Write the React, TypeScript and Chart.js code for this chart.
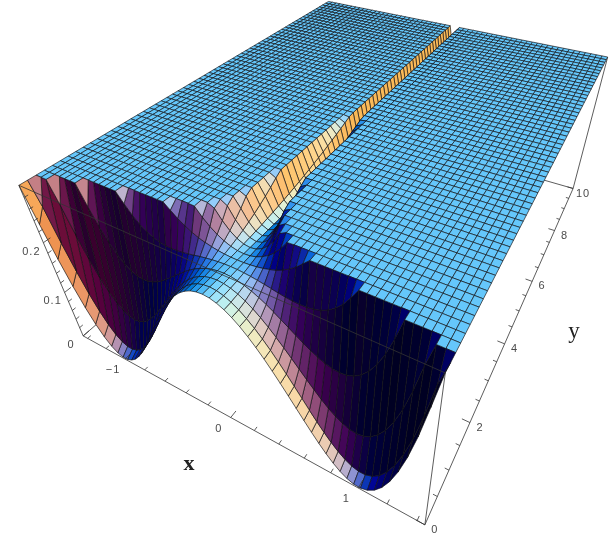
import React, { useEffect, useRef } from "react";
import { Chart, registerables } from "chart.js";

Chart.register(...registerables);

// Surface heights. Columns run outward from x = 0 (the surface is mirrored about x = 0);
// a row lists only the columns below the clip height, every further column sits on the plateau.
const zTop = 0.3;
const xRange = 1.45;
const yRange = 10;
const xColumns = [0,.0483,.0967,.145,.1933,.2417,.29,.3383,.3867,.435,.4833,.5317,.58,.6283,.6767,.725,.7733,.8217,.87,.9183,.9667,1.015,1.0633,1.1117,1.16,1.2083,1.2567,1.305,1.3533,1.4017,1.45];
const yRowCount = 60;
const zRows: number[][] = [
[.25,.2488,.2454,.2397,.2318,.2218,.2099,.1963,.1812,.1648,.1474,.1293,.1109,.0926,.0746,.0576,.0419,.0281,.0167,.0083,.0034,.0028,.0071,.017,.0332,.0566,.0878,.1278,.1774,.2376],
[.25,.2489,.2455,.2399,.2322,.2224,.2109,.1976,.1829,.1669,.15,.1325,.1147,.0969,.0797,.0634,.0485,.0356,.0251,.0176,.0138,.0143,.0197,.0307,.0482,.0728,.1054,.1467,.1978,.2594],
[.25,.249,.2461,.2413,.2347,.2263,.2165,.2052,.1928,.1795,.1656,.1513,.1371,.1233,.1102,.0985,.0884,.0806,.0755,.0738,.0761,.0829,.095,.1131,.1379,.1701,.2107,.2603],
[.25,.2493,.2472,.2439,.2392,.2335,.2268,.2192,.2111,.2027,.1942,.1859,.1782,.1715,.1662,.1627,.1615,.1631,.168,.1769,.1903,.2089,.2332,.2642],
[.25,.2497,.2489,.2476,.2459,.2439,.2417,.2396,.2377,.2363,.2357,.2361,.238,.2417,.2476,.2561,.2678,.2831],
[.25,.2503,.2511,.2525,.2546,.2575,.2613,.2663,.2726,.2805,.2902],
[.25,.2509,.2538,.2586,.2654,.2744,.2856,.2994],
[.25,.2517,.257,.2658,.2783,.2945],
[.25,.2527,.2607,.2742,.2932],
[.25,.2537,.2651,.2838],
[.25,.2549,.2698,.2946],
[.25,.2563,.2751],
[.25,.2577,.2809],
[.25,.2593,.2872],
[.25,.261,.2941],
[.25,.2629],[.25,.2648],[.25,.2669],[.25,.2692],[.25,.2715],[.25,.274],[.25,.2766],[.25,.2794],[.25,.2823],[.25,.2853],
[.25,.2884],[.25,.2917],[.25,.2951],[.25,.2986],
[.25],[.25],[.25],[.25],[.25],[.25],[.25],[.25],[.25],[.25],[.25],[.25],[.25],[.25],[.25],[.25],
[.25],[.25],[.25],[.25],[.25],[.25],[.25],[.25],[.25],[.25],[.25],[.25],[.25],[.25],[.25],[.25],
];

const xMajorTicks = [-1, 0, 1];
const xMinorTicks = [-1.4,-1.2,-.8,-.6,-.4,-.2,.2,.4,.6,.8,1.2,1.4];
const yMajorTicks = [0, 2, 4, 6, 8, 10];
const yMinorTicks = [.5,1,1.5,2.5,3,3.5,4.5,5,5.5,6.5,7,7.5,8.5,9,9.5];
const zMajorTicks = [0, 0.1, 0.2];
const zMinorTicks = [.02,.04,.06,.08,.12,.14,.16,.18,.22,.24,.26,.28];

// Camera: where known points of the bounding box land on the page, [u, v, w, px, py].
const boxCorners = [
  [0,0,0,84,335],[1,0,0,422,526],[0,0,1,17,189],[1,0,1,446,366],
  [1,1,1,608,58],[0,1,1,328,1],[1,1,0,573,188],
  [.5,0,0,231,416],[.155,0,0,125,357],[.845,0,0,363,493],
  [1,.4,0,503,345],[1,.6,0,531,281],[1,.8,0,555,230],[.5,1,1,456,27],
];
const boxHeight = 0.4;
// World axes in viewer coordinates, for the three coloured lights of the renderer.
const axisU = [.805,-.333,.491], axisV = [.588,.503,-.623], axisW = [-.04,.79,.6];

function solveCamera(): number[] {
  const n = 11;
  const A = Array.from({ length: n }, () => new Array(n + 1).fill(0));
  const add = (r: number[], t: number) => {
    for (let a = 0; a < n; a++) {
      for (let b = 0; b < n; b++) A[a][b] += r[a] * r[b];
      A[a][n] += r[a] * t;
    }
  };
  for (const [u, v, w, X, Y] of boxCorners) {
    add([u,v,w,1,0,0,0,0,-X*u,-X*v,-X*w], X);
    add([0,0,0,0,u,v,w,1,-Y*u,-Y*v,-Y*w], Y);
  }
  for (let c = 0; c < n; c++) {
    let p = c;
    for (let r = c + 1; r < n; r++) if (Math.abs(A[r][c]) > Math.abs(A[p][c])) p = r;
    [A[c], A[p]] = [A[p], A[c]];
    for (let r = 0; r < n; r++) {
      if (r === c) continue;
      const f = A[r][c] / A[c][c];
      for (let k = c; k <= n; k++) A[r][k] -= f * A[c][k];
    }
  }
  return A.map((row, i) => row[n] / row[i]);
}
const cam = solveCamera();
const project = (u: number, v: number, w: number) => {
  const d = cam[8]*u + cam[9]*v + cam[10]*w + 1;
  return {
    x: (cam[0]*u + cam[1]*v + cam[2]*w + cam[3]) / d,
    y: (cam[4]*u + cam[5]*v + cam[6]*w + cam[7]) / d,
    d,
  };
};
const xToU = (x: number) => (x + xRange) / (2 * xRange);
const yToV = (y: number) => y / yRange;
const zToW = (z: number) => z / zTop;

function heightAt(col: number, row: number) {
  const list = zRows[row];
  const k = Math.abs(col);
  return k < list.length ? list[k] : zTop;
}

function shade(nu: number, nv: number, nw: number) {
  const len = Math.hypot(nu, nv, nw) || 1;
  const nx = (nu*axisU[0] + nv*axisV[0] + nw*axisW[0]) / len;
  const ny = (nu*axisU[1] + nv*axisV[1] + nw*axisW[1]) / len;
  const nz = (nu*axisU[2] + nv*axisV[2] + nw*axisW[2]) / len;
  const ch = (v: number) => Math.round(255 * Math.min(1, Math.max(0, v)));
  const r = ch((nx + nz) / Math.SQRT2);
  const g = ch((nx + ny + nz) / Math.sqrt(3));
  const b = ch((ny + nz) / Math.SQRT2);
  return `rgb(${r},${g},${b})`;
}

function buildSurface() {
  const nCols = xColumns.length - 1;
  const cells: { pts: {x:number;y:number}[]; color: string; depth: number }[] = [];
  const vertex = (col: number, row: number) => {
    const x = Math.sign(col) * xColumns[Math.abs(col)];
    const y = (row / yRowCount) * yRange;
    const u = xToU(x), v = yToV(y), w = zToW(heightAt(col, row));
    return { u, v, w, h: w * boxHeight, p: project(u, v, w) };
  };
  for (let row = 0; row < yRowCount; row++) {
    for (let col = -nCols; col < nCols; col++) {
      const a = vertex(col, row), b = vertex(col + 1, row), c = vertex(col + 1, row + 1), e = vertex(col, row + 1);
      const d1 = [c.u - a.u, c.v - a.v, c.h - a.h];
      const d2 = [e.u - b.u, e.v - b.v, e.h - b.h];
      let nu = d1[1]*d2[2] - d1[2]*d2[1];
      let nv = d1[2]*d2[0] - d1[0]*d2[2];
      let nw = d1[0]*d2[1] - d1[1]*d2[0];
      if (nw < 0) { nu = -nu; nv = -nv; nw = -nw; }
      cells.push({
        pts: [a, b, c, e].map((q) => ({ x: q.p.x, y: q.p.y })),
        color: shade(nu, nv, nw),
        depth: (a.p.d + b.p.d + c.p.d + e.p.d) / 4,
      });
    }
  }
  const sign = project(0.5, 1, 0).d > project(0.5, 0, 0).d ? -1 : 1;
  cells.sort((p, q) => sign * (p.depth - q.depth));
  return cells;
}

function polyline(points: { u: number; v: number; w: number }[][]) {
  const out: { x: number; y: number }[] = [];
  points.forEach((seg, i) => {
    if (i) out.push({ x: NaN, y: NaN });
    seg.forEach((q) => {
      const p = project(q.u, q.v, q.w);
      out.push({ x: p.x, y: p.y });
    });
  });
  return out;
}
const P = (u: number, v: number, w: number) => ({ u, v, w });

const tickSegs: { u: number; v: number; w: number }[][] = [];
xMajorTicks.forEach((t) => tickSegs.push([P(xToU(t),0,0), P(xToU(t),.015,0)]));
xMinorTicks.forEach((t) => tickSegs.push([P(xToU(t),0,0), P(xToU(t),.008,0)]));
yMajorTicks.forEach((t) => tickSegs.push([P(1,yToV(t),0), P(.98,yToV(t),0)]));
yMinorTicks.forEach((t) => tickSegs.push([P(1,yToV(t),0), P(.99,yToV(t),0)]));
zMajorTicks.forEach((t) => tickSegs.push([P(0,0,zToW(t)), P(0,.015,zToW(t))]));
zMinorTicks.forEach((t) => tickSegs.push([P(0,0,zToW(t)), P(0,.008,zToW(t))]));

const frontEdges = [
  [P(0,0,0), P(1,0,0)],
  [P(1,0,0), P(1,1,0)],
  [P(0,0,0), P(0,0,1)],
  [P(1,0,0), P(1,0,1)],
  [P(1,1,0), P(1,1,1)],
  [P(0,0,1), P(1,0,1)],
];
const backEdges = [[P(0,0,0), P(0,1,0)], [P(0,1,0), P(1,1,0)]];

const xLabelOffset = [-12, 11], yLabelOffset = [10, 5], zLabelOffset = [-12, 9];

const surfacePlugin = {
  id: "surfacePlugin",
  afterDatasetDraw(chart: any, args: any) {
    const ds: any = chart.data.datasets[args.index];
    if (!ds.cellColors) return;
    const ctx = chart.ctx, pts = args.meta.data;
    ctx.save();
    ctx.lineWidth = 0.75;
    ctx.lineJoin = "round";
    ctx.strokeStyle = "rgba(16,16,20,0.88)";
    for (let c = 0; c < ds.cellColors.length; c++) {
      const k = c * 4;
      ctx.beginPath();
      ctx.moveTo(pts[k].x, pts[k].y);
      ctx.lineTo(pts[k+1].x, pts[k+1].y);
      ctx.lineTo(pts[k+2].x, pts[k+2].y);
      ctx.lineTo(pts[k+3].x, pts[k+3].y);
      ctx.closePath();
      ctx.fillStyle = ds.cellColors[c];
      ctx.fill();
      ctx.stroke();
    }
    ctx.restore();
  },
  afterDraw(chart: any) {
    const ctx = chart.ctx, sx = chart.scales.x, sy = chart.scales.y;
    const put = (text: string, q: { u: number; v: number; w: number }, off: number[]) => {
      const p = project(q.u, q.v, q.w);
      ctx.fillText(text, sx.getPixelForValue(p.x) + off[0], sy.getPixelForValue(p.y) + off[1]);
    };
    ctx.save();
    ctx.textAlign = "center";
    ctx.textBaseline = "middle";
    ctx.fillStyle = "#4a4a4a";
    ctx.font = '11px "Liberation Sans"';
    (ctx as any).letterSpacing = "1px";
    xMajorTicks.forEach((t) => put(t < 0 ? "\u2212" + -t : String(t), P(xToU(t),0,0), xLabelOffset));
    yMajorTicks.forEach((t) => put(String(t), P(1,yToV(t),0), yLabelOffset));
    zMajorTicks.forEach((t) => put(String(t), P(0,0,zToW(t)), zLabelOffset));
    (ctx as any).letterSpacing = "0px";
    ctx.fillStyle = "#222";
    ctx.font = 'bold 22px "Liberation Serif"';
    ctx.fillText("x", sx.getPixelForValue(189), sy.getPixelForValue(464));
    ctx.font = '23px "Liberation Serif"';
    ctx.fillText("y", sx.getPixelForValue(574), sy.getPixelForValue(332));
    ctx.restore();
  },
};

export default function App() {
  const ref = useRef<HTMLCanvasElement>(null);
  useEffect(() => {
    const cells = buildSurface();
    const lineStyle = {
      showLine: true, pointRadius: 0, borderColor: "#333", borderWidth: 0.8, spanGaps: false, clip: false,
    };
    const chart = new Chart(ref.current!, {
      type: "scatter",
      data: {
        datasets: [
          { label: "box front", data: polyline(frontEdges), ...lineStyle, order: 1 },
          { label: "ticks", data: polyline(tickSegs), ...lineStyle, order: 1 },
          {
            label: "surface",
            data: cells.flatMap((c) => c.pts),
            cellColors: cells.map((c) => c.color),
            pointRadius: 0, showLine: false, clip: false, order: 2,
          } as any,
          { label: "box back", data: polyline(backEdges), ...lineStyle, order: 3 },
        ],
      },
      options: {
        animation: false,
        responsive: false,
        normalized: true,
        events: [],
        layout: { padding: 0 },
        plugins: { legend: { display: false }, title: { display: false }, tooltip: { enabled: false } },
        scales: {
          x: { type: "linear", min: 0, max: 609, display: false },
          y: { type: "linear", min: 0, max: 542, reverse: true, display: false },
        },
      },
      plugins: [surfacePlugin],
    } as any);
    return () => chart.destroy();
  }, []);
  return (
    <div style={{ position: "fixed", left: 0, top: 0, width: 609, height: 542, background: "#fff" }}>
      <canvas ref={ref} width={609} height={542} style={{ display: "block" }} />
    </div>
  );
}
